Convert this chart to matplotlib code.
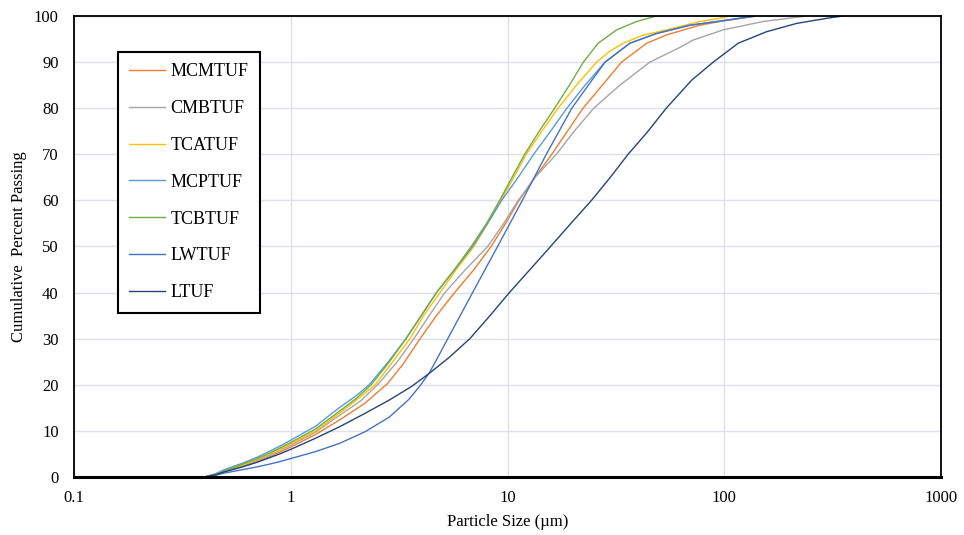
import matplotlib.pyplot as plt
from matplotlib.ticker import FixedLocator, FixedFormatter

plt.rcParams['font.family'] = ['Liberation Serif', 'DejaVu Serif']

# particle size distributions (size in um, cumulative % passing)
mcmtuf_size = [0.24, 0.4, 0.45, 0.5, 0.6, 0.7, 0.8, 0.9, 1.0, 1.3, 1.67, 2.2, 2.8, 3.3, 3.95, 4.7,
               5.7, 7.0, 8.4, 9.8, 11.3, 13.4, 16.0, 18.9, 22.3, 27.4, 33.6, 43.9, 54.2, 77, 95.5, 140]
mcmtuf_pct = [0, 0, 0.4, 1.2, 2.3, 3.4, 4.4, 5.5, 6.5, 9.2, 12.3, 16.0, 20.3, 24.5, 30, 35,
              40, 45, 50, 55, 60, 65, 70, 75, 80, 85, 90, 94.1, 95.9, 98, 98.8, 100]

cmbtuf_size = [0.24, 0.4, 0.45, 0.5, 0.6, 0.7, 0.8, 0.9, 1.0, 1.3, 1.67, 2.1, 2.55, 3.1, 3.7, 4.35,
               5.14, 6.4, 8.1, 9.6, 11.2, 13.4, 16.8, 20.3, 25, 33, 45.4, 62.5, 72, 99, 151, 240]
cmbtuf_pct = [0, 0, 0.5, 1.4, 2.5, 3.6, 4.7, 5.9, 6.9, 9.7, 13.3, 16.5, 20.3, 25, 30, 35,
              40, 45, 50, 55, 60, 65, 70, 75, 80, 85, 90, 93.2, 94.8, 97, 98.8, 100]

tcatuf_size = [0.24, 0.4, 0.45, 0.5, 0.6, 0.7, 0.8, 0.9, 1.0, 1.3, 1.67, 2.0, 2.45, 2.9, 3.55, 4.1, 4.88,
               5.8, 7.0, 8.1, 9.3, 10.7, 12.2, 14.4, 17.1, 20.8, 25.8, 29.5, 34.2, 42, 54.2, 77, 95.5, 106]
tcatuf_pct = [0, 0, 0.5, 1.3, 2.6, 3.8, 5.0, 6.1, 7.2, 10.0, 13.8, 16.6, 20, 24.5, 30, 35, 40,
              45, 50, 55, 60, 65, 70, 75, 80, 85, 90, 92.3, 94.1, 95.8, 97, 98.8, 99.5, 100]

mcptuf_size = [0.24, 0.4, 0.45, 0.5, 0.6, 0.7, 0.8, 0.9, 1.0, 1.3, 1.67, 2.0, 2.3, 2.8, 3.4, 4.0,
               4.7, 5.7, 6.9, 8.1, 9.4, 11.2, 13.2, 15.8, 18.8, 22.8, 28.2, 36.7, 48.7, 69.5, 95.5, 140]
mcptuf_pct = [0, 0, 0.7, 1.7, 3.0, 4.3, 5.6, 6.8, 8.0, 11, 15, 17.6, 20, 24.8, 30, 35,
              40, 45, 50, 55, 60, 65, 70, 75, 80, 85, 90, 94.1, 96.2, 98, 98.9, 100]

tcbtuf_size = [0.24, 0.4, 0.45, 0.5, 0.6, 0.7, 0.8, 0.9, 1.0, 1.3, 1.67, 2.0, 2.35, 2.8, 3.4, 4.0,
               4.7, 5.7, 6.8, 8.0, 9.2, 10.5, 12.0, 14.0, 16.5, 19.3, 22.4, 26.2, 31.9, 39.4, 48.7]
tcbtuf_pct = [0, 0, 0.6, 1.4, 2.8, 4.0, 5.2, 6.4, 7.5, 10.4, 14.2, 17, 20, 24.5, 30, 35,
              40, 45, 50, 55, 60, 65, 70, 75, 80, 85, 90, 94.1, 97, 98.8, 100]

lwtuf_size = [0.24, 0.4, 0.45, 0.5, 0.6, 0.7, 0.8, 0.9, 1.0, 1.3, 1.68, 2.2, 2.85, 3.5, 3.95,
              4.36, 4.8, 5.3, 6.9, 9.0, 11.7, 15.1, 19.8, 23.6, 28.2, 36.7, 48.7, 69.5, 95.5, 140]
lwtuf_pct = [0, 0, 0.4, 0.9, 1.6, 2.2, 2.8, 3.4, 4.0, 5.5, 7.3, 9.8, 13, 16.8, 19.8,
             22.6, 26.2, 30, 40, 50, 60, 70, 80, 85, 90, 94.1, 96.2, 98, 98.9, 100]

ltuf_size = [0.24, 0.4, 0.45, 0.5, 0.6, 0.7, 0.8, 0.9, 1.0, 1.3, 1.68, 2.2, 2.85, 3.6, 4.36, 5.4, 6.7,
             8.3, 10.2, 12.7, 15.8, 19.6, 24.4, 29.8, 36, 44.5, 54, 70.8, 89, 116, 157, 216, 297, 353]
ltuf_pct = [0, 0, 0.5, 1.2, 2.2, 3.2, 4.2, 5.1, 6.0, 8.4, 10.9, 13.8, 16.7, 19.6, 22.5, 26, 30,
            35, 40, 45, 50, 55, 60, 65, 70, 75, 80, 86.1, 90, 94.1, 96.6, 98.4, 99.5, 100]

series = [
    ('MCMTUF', mcmtuf_size, mcmtuf_pct, '#ED7D31'),
    ('CMBTUF', cmbtuf_size, cmbtuf_pct, '#A5A5A5'),
    ('TCATUF', tcatuf_size, tcatuf_pct, '#FFC000'),
    ('MCPTUF', mcptuf_size, mcptuf_pct, '#5B9BD5'),
    ('TCBTUF', tcbtuf_size, tcbtuf_pct, '#70AD47'),
    ('LWTUF', lwtuf_size, lwtuf_pct, '#4472C4'),
    ('LTUF', ltuf_size, ltuf_pct, '#264478'),
]

x_ticks = [0.1, 1, 10, 100, 1000]
x_labels = ['0.1', '1', '10', '100', '1000']
y_ticks = list(range(0, 101, 10))

fig = plt.figure(figsize=(9.64, 5.35), dpi=100)
ax = fig.add_axes([74 / 964, 1 - 477 / 535, (941 - 74) / 964, (477 - 16) / 535])

for name, xs, ys, col in series:
    ax.plot(xs, ys, color=col, lw=1.0, label=name, solid_joinstyle='round')

ax.set_xscale('log')
ax.set_xlim(0.1, 1000)
ax.set_ylim(0, 100)
ax.xaxis.set_major_locator(FixedLocator(x_ticks))
ax.xaxis.set_major_formatter(FixedFormatter(x_labels))
ax.xaxis.set_minor_locator(FixedLocator([]))
ax.set_yticks(y_ticks)

ax.grid(True, which='major', color='#DDE0E8', lw=1.0)
ax.set_axisbelow(True)
ax.tick_params(length=0, labelsize=12)
ax.tick_params(axis='y', pad=11)
ax.tick_params(axis='x', pad=9)

for s in ['top', 'right', 'left']:
    ax.spines[s].set_color('black')
    ax.spines[s].set_linewidth(1.3)
ax.spines['bottom'].set_color('black')
ax.spines['bottom'].set_linewidth(2.2)

ax.set_xlabel('Particle Size (\u00b5m)', fontsize=12, labelpad=6)
ax.set_ylabel('Cumulative  Percent Passing', fontsize=12, labelpad=5)

leg = ax.legend(loc='upper left', bbox_to_anchor=(118 / 964, 1 - 52 / 535),
                bbox_transform=fig.transFigure, borderaxespad=0,
                fontsize=13, labelspacing=1.1, handlelength=2.0,
                handletextpad=0.3, borderpad=0.62, fancybox=False,
                framealpha=1, edgecolor='black')
leg.get_frame().set_linewidth(1.5)

fig.savefig('out.png', dpi=100)
